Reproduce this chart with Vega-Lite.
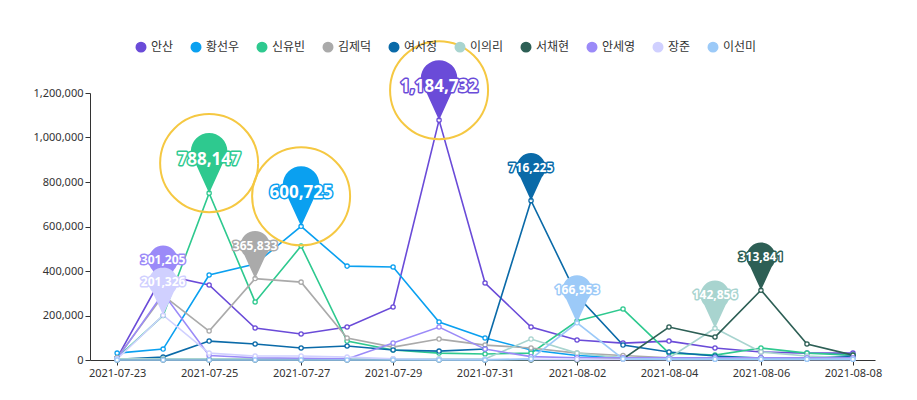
{
  "$schema": "https://vega.github.io/schema/vega-lite/v6.json",
  "width": 785,
  "height": 267,
  "autosize": "none",
  "padding": {"left": 90, "top": 93, "right": 42, "bottom": 40},
  "background": "white",
  "config": {"font": "Noto Sans CJK KR", "view": {"stroke": null}},
  "datasets": {
    "pins": [
      {"name": "안산", "date": "2021-07-30T00:00:00", "value": 1078000, "label": "1,184,732"},
      {"name": "황선우", "date": "2021-07-27T00:00:00", "value": 600725, "label": "600,725"},
      {"name": "신유빈", "date": "2021-07-25T00:00:00", "value": 750000, "label": "788,147"},
      {"name": "김제덕", "date": "2021-07-26T00:00:00", "value": 365833, "label": "365,833"},
      {"name": "여서정", "date": "2021-08-01T00:00:00", "value": 716225, "label": "716,225"},
      {"name": "이의리", "date": "2021-08-05T00:00:00", "value": 142856, "label": "142,856"},
      {"name": "서채현", "date": "2021-08-06T00:00:00", "value": 313841, "label": "313,841"},
      {"name": "안세영", "date": "2021-07-24T00:00:00", "value": 300000, "label": "301,205"},
      {"name": "장준", "date": "2021-07-24T00:00:00", "value": 201326, "label": "201,326"},
      {"name": "이선미", "date": "2021-08-02T00:00:00", "value": 166953, "label": "166,953"}
    ]
  },
  "data": {
    "values": [
      {"date": "2021-07-23T00:00:00", "안산": 10000, "황선우": 31000, "신유빈": 10000, "김제덕": 10000, "여서정": 3000, "이의리": 5000, "서채현": 0, "안세영": 5000, "장준": 5000, "이선미": 0},
      {"date": "2021-07-24T00:00:00", "안산": 382000, "황선우": 49000, "신유빈": 200000, "김제덕": 290000, "여서정": 13000, "이의리": 5000, "서채현": 0, "안세영": 300000, "장준": 201326, "이선미": 0},
      {"date": "2021-07-25T00:00:00", "안산": 337000, "황선우": 382000, "신유빈": 750000, "김제덕": 130000, "여서정": 85000, "이의리": 5000, "서채현": 0, "안세영": 20000, "장준": 31000, "이선미": 0},
      {"date": "2021-07-26T00:00:00", "안산": 144000, "황선우": 431000, "신유빈": 261000, "김제덕": 365833, "여서정": 72000, "이의리": 5000, "서채현": 0, "안세영": 10000, "장준": 18000, "이선미": 0},
      {"date": "2021-07-27T00:00:00", "안산": 117000, "황선우": 600725, "신유빈": 512000, "김제덕": 350000, "여서정": 54000, "이의리": 5000, "서채현": 0, "안세영": 8000, "장준": 18000, "이선미": 0},
      {"date": "2021-07-28T00:00:00", "안산": 148000, "황선우": 422000, "신유빈": 85000, "김제덕": 99000, "여서정": 63000, "이의리": 5000, "서채현": 0, "안세영": 5000, "장준": 13000, "이선미": 0},
      {"date": "2021-07-29T00:00:00", "안산": 238000, "황선우": 418000, "신유빈": 45000, "김제덕": 58000, "여서정": 45000, "이의리": 5000, "서채현": 0, "안세영": 76000, "장준": 5000, "이선미": 0},
      {"date": "2021-07-30T00:00:00", "안산": 1078000, "황선우": 171000, "신유빈": 31000, "김제덕": 94000, "여서정": 40000, "이의리": 5000, "서채현": 0, "안세영": 148000, "장준": 3000, "이선미": 0},
      {"date": "2021-07-31T00:00:00", "안산": 346000, "황선우": 99000, "신유빈": 27000, "김제덕": 67000, "여서정": 49000, "이의리": 5000, "서채현": 0, "안세영": 49000, "장준": 3000, "이선미": 0},
      {"date": "2021-08-01T00:00:00", "안산": 148000, "황선우": 45000, "신유빈": 31000, "김제덕": 54000, "여서정": 716225, "이의리": 94000, "서채현": 0, "안세영": 15000, "장준": 3000, "이선미": 5000},
      {"date": "2021-08-02T00:00:00", "안산": 90000, "황선우": 20000, "신유빈": 175000, "김제덕": 31000, "여서정": 290000, "이의리": 31000, "서채현": 0, "안세영": 10000, "장준": 3000, "이선미": 166953},
      {"date": "2021-08-03T00:00:00", "안산": 76000, "황선우": 10000, "신유빈": 229000, "김제덕": 20000, "여서정": 67000, "이의리": 9000, "서채현": 5000, "안세영": 10000, "장준": 3000, "이선미": 5000},
      {"date": "2021-08-04T00:00:00", "안산": 85000, "황선우": 8000, "신유빈": 31000, "김제덕": 10000, "여서정": 36000, "이의리": 9000, "서채현": 148000, "안세영": 10000, "장준": 3000, "이선미": 3000},
      {"date": "2021-08-05T00:00:00", "안산": 54000, "황선우": 5000, "신유빈": 22000, "김제덕": 10000, "여서정": 18000, "이의리": 142856, "서채현": 103000, "안세영": 10000, "장준": 3000, "이선미": 3000},
      {"date": "2021-08-06T00:00:00", "안산": 36000, "황선우": 5000, "신유빈": 54000, "김제덕": 10000, "여서정": 9000, "이의리": 36000, "서채현": 313841, "안세영": 10000, "장준": 3000, "이선미": 3000},
      {"date": "2021-08-07T00:00:00", "안산": 31000, "황선우": 5000, "신유빈": 31000, "김제덕": 10000, "여서정": 9000, "이의리": 18000, "서채현": 72000, "안세영": 10000, "장준": 3000, "이선미": 3000},
      {"date": "2021-08-08T00:00:00", "안산": 31000, "황선우": 5000, "신유빈": 22000, "김제덕": 10000, "여서정": 18000, "이의리": 9000, "서채현": 22000, "안세영": 10000, "장준": 3000, "이선미": 3000}
    ]
  },
  "transform": [
    {"fold": ["안산", "황선우", "신유빈", "김제덕", "여서정", "이의리", "서채현", "안세영", "장준", "이선미"], "as": ["name", "value"]}
  ],
  "encoding": {
    "x": {
      "field": "date", "type": "temporal",
      "scale": {"domain": ["2021-07-22T09:50:00", "2021-08-08T11:30:00"]},
      "axis": {
        "title": null, "format": "%Y-%m-%d", "grid": false,
        "values": ["2021-07-23T00:00:00", "2021-07-25T00:00:00", "2021-07-27T00:00:00", "2021-07-29T00:00:00", "2021-07-31T00:00:00", "2021-08-02T00:00:00", "2021-08-04T00:00:00", "2021-08-06T00:00:00", "2021-08-08T00:00:00"],
        "domainColor": "#333", "tickColor": "#333", "labelColor": "#333", "labelFontSize": 11, "labelFont": "Noto Sans"
      }
    },
    "y": {
      "field": "value", "type": "quantitative",
      "scale": {"domain": [0, 1200000]},
      "axis": {
        "title": null, "format": ",.0f", "formatType": "number", "grid": false,
        "values": [0, 200000, 400000, 600000, 800000, 1000000, 1200000],
        "domainColor": "#333", "tickColor": "#333", "labelColor": "#333", "labelFontSize": 11, "labelFont": "Noto Sans"
      }
    }
  },
  "layer": [
    {
      "mark": {"type": "line", "strokeWidth": 1.6},
      "encoding": {
        "color": {
          "field": "name", "type": "nominal",
          "scale": {
            "domain": ["안산", "황선우", "신유빈", "김제덕", "여서정", "이의리", "서채현", "안세영", "장준", "이선미"],
            "range": ["#6a4bd8", "#0aa0f0", "#2ec98f", "#aaaaaa", "#0a6aa8", "#a8d4cf", "#2d5f55", "#9b8af8", "#d0d0ff", "#9ccaf8"]
          },
          "legend": {
            "title": null, "orient": "none", "legendX": 45, "legendY": -52, "direction": "horizontal",
            "symbolType": "circle", "symbolFillColor": "white", "symbolStrokeWidth": 1.5, "symbolSize": 90,
            "labelFontSize": 12, "labelColor": "#333", "columnPadding": 14
          }
        }
      }
    },
    {
      "mark": {"type": "point", "filled": true, "fill": "white", "size": 18, "strokeWidth": 1.3, "opacity": 1},
      "encoding": {"stroke": {"field": "name", "type": "nominal", "legend": null,
        "scale": {"domain": ["안산", "황선우", "신유빈", "김제덕", "여서정", "이의리", "서채현", "안세영", "장준", "이선미"],
          "range": ["#6a4bd8", "#0aa0f0", "#2ec98f", "#aaaaaa", "#0a6aa8", "#a8d4cf", "#2d5f55", "#9b8af8", "#d0d0ff", "#9ccaf8"]}}}
    },
    {
      "data": {"name": "pins"},
      "transform": [{"filter": "indexof(['안산','황선우','신유빈'], datum.name) >= 0"}],
      "mark": {"type": "point", "shape": "circle", "filled": false, "stroke": "#f5c842", "strokeWidth": 2, "size": 9600, "opacity": 1},
      "encoding": {"yOffset": {"value": -30}}
    },
    {
      "data": {"name": "pins"},
      "mark": {"type": "point", "filled": true, "opacity": 1, "shape": "M0,0 L-0.55,-1.2 A0.75,0.75 0 1 1 0.55,-1.2 Z"},
      "encoding": {
        "color": {"field": "name", "type": "nominal", "legend": null},
        "size": {"condition": {"test": "indexof(['안산','황선우','신유빈'], datum.name) >= 0", "value": 2380}, "value": 1500}
      }
    },
    {
      "data": {"name": "pins"},
      "mark": {"type": "text", "fontWeight": "bold", "strokeWidth": 3, "strokeJoin": "round", "baseline": "middle", "font": "Noto Sans"},
      "encoding": {
        "text": {"field": "label"},
        "stroke": {"field": "name", "type": "nominal", "legend": null},
        "fill": {"value": "white"},
        "yOffset": {"condition": {"test": "indexof(['안산','황선우','신유빈'], datum.name) >= 0", "value": -42}, "value": -33},
        "size": {"condition": {"test": "indexof(['안산','황선우','신유빈'], datum.name) >= 0", "value": 17}, "value": 12}
      }
    },
    {
      "data": {"name": "pins"},
      "mark": {"type": "text", "fontWeight": "bold", "baseline": "middle", "fill": "white", "font": "Noto Sans"},
      "encoding": {
        "text": {"field": "label"},
        "yOffset": {"condition": {"test": "indexof(['안산','황선우','신유빈'], datum.name) >= 0", "value": -42}, "value": -33},
        "size": {"condition": {"test": "indexof(['안산','황선우','신유빈'], datum.name) >= 0", "value": 17}, "value": 12}
      }
    }
  ]
}
